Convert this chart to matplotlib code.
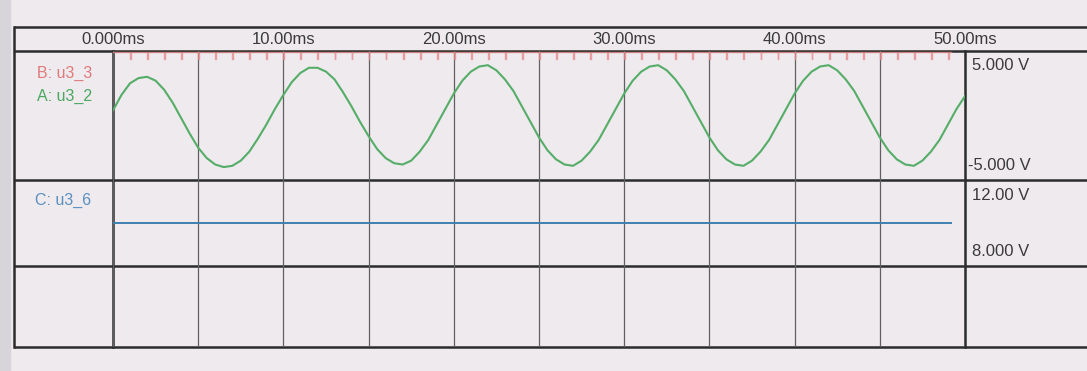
import matplotlib
matplotlib.use("Agg")
import matplotlib.pyplot as plt
import numpy as np

plt.rcParams['font.family'] = ['Liberation Sans', 'DejaVu Sans']

# ---------------- data ----------------
time_ticks = [0, 10, 20, 30, 40, 50]
time_labels = ['0.000ms', '10.00ms', '20.00ms', '30.00ms', '40.00ms', '50.00ms']
grid_ms = [0, 5, 10, 15, 20, 25, 30, 35, 40, 45, 50]

# Channel A (u3_2), sampled every 0.5 ms from 0 to 50 ms (volts)
a_dt_ms = 0.5
a_values = [
    0.4, 1.6, 2.5, 2.9, 3.0, 2.7, 2.0, 1.0, -0.2, -1.4,
    -2.5, -3.3, -3.8, -4.0, -3.9, -3.5, -2.8, -1.8, -0.7, 0.5,
    1.6, 2.6, 3.3, 3.7, 3.7, 3.4, 2.8, 1.8, 0.7, -0.5,
    -1.6, -2.6, -3.3, -3.7, -3.8, -3.5, -2.8, -1.9, -0.7, 0.5,
    1.7, 2.7, 3.4, 3.8, 3.9, 3.5, 2.8, 1.9, 0.7, -0.5,
    -1.7, -2.7, -3.4, -3.8, -3.9, -3.5, -2.8, -1.9, -0.7, 0.5,
    1.7, 2.7, 3.4, 3.8, 3.9, 3.5, 2.8, 1.9, 0.7, -0.5,
    -1.7, -2.7, -3.4, -3.8, -3.9, -3.5, -2.8, -1.9, -0.7, 0.5,
    1.7, 2.7, 3.4, 3.8, 3.9, 3.5, 2.8, 1.9, 0.7, -0.5,
    -1.7, -2.7, -3.4, -3.8, -3.9, -3.5, -2.8, -1.9, -0.7, 0.5,
    1.5,
]

# Channel B (u3_3): sits at the top of the scale with short dips
b_high = 4.9
b_low = 4.35
b_pulse_ms = [1, 2, 3, 4, 5, 6, 7, 8, 9, 10, 11, 12, 13, 14, 15, 16, 17,
              18, 19, 20, 21, 22, 23, 24, 25, 26, 27, 28, 29, 30, 31, 32,
              33, 34, 35, 36, 37, 38, 39, 40, 41, 42, 43, 44, 45, 46, 47, 48, 49]
b_pulse_width_ms = 0.05
b_end_ms = 49.2

# Channel C (u3_6)
c_time_ms = [0.0, 49.2]
c_values = [10.0, 10.0]

# ---------------- layout (pixels) ----------------
W, H = 1087, 371
x_outer, x_left, x_right = 14, 113, 965
y_top, y_time, y_p1, y_p2, y_p3 = 27, 51, 180, 266, 347

paper = '#eeeaee'
frame = '#2c2c2c'
gridc = '#606060'
txt = '#3a3a3a'

fig = plt.figure(figsize=(W / 100, H / 100), dpi=100)
fig.patch.set_facecolor(paper)

bg = fig.add_axes([0, 0, 1, 1])
bg.set_xlim(0, W)
bg.set_ylim(H, 0)
bg.axis('off')
bg.add_patch(plt.Rectangle((0, 0), 10, H, color='#d8d5da', zorder=0))

for y in [y_top, y_time, y_p1, y_p2, y_p3]:
    bg.plot([x_outer, W], [y, y], color=frame, lw=1.8, solid_capstyle='butt')
bg.plot([x_outer, x_outer], [y_top, y_p3], color=frame, lw=1.8)
bg.plot([x_left, x_left], [y_time, y_p3], color=frame, lw=1.8)
bg.plot([x_right, x_right], [y_time, y_p3], color=frame, lw=1.8)


def rect(x0, y0, x1, y1):
    return [x0 / W, 1 - y1 / H, (x1 - x0) / W, (y1 - y0) / H]


ax1 = fig.add_axes(rect(x_left, y_time, x_right, y_p1))
ax2 = fig.add_axes(rect(x_left, y_p1, x_right, y_p2))
ax3 = fig.add_axes(rect(x_left, y_p2, x_right, y_p3))

for ax in (ax1, ax2, ax3):
    ax.set_facecolor('none')
    ax.set_xlim(0, 50)
    ax.set_xticks(grid_ms)
    ax.grid(axis='x', color=gridc, lw=0.9)
    ax.set_yticks([])
    ax.tick_params(length=0, labelbottom=False)
    for s in ax.spines.values():
        s.set_visible(False)

ax1.set_ylim(-5, 5)
ax2.set_ylim(8, 12)
ax3.set_ylim(0, 1)

# time labels on top of the first panel
lab = [time_labels[time_ticks.index(t)] if t in time_ticks else '' for t in grid_ms]
ax1.xaxis.tick_top()
ax1.set_xticklabels(lab)
ax1.tick_params(axis='x', top=True, labeltop=True, length=0, pad=3,
                labelsize=12, labelcolor=txt)

# channel A
a_time = np.arange(len(a_values)) * a_dt_ms
ax1.plot(a_time, a_values, color='#55ad68', lw=1.5, zorder=3)

# channel B
bt, bv = [0.0], [b_high]
for t in b_pulse_ms:
    bt += [t, t, t + b_pulse_width_ms, t + b_pulse_width_ms]
    bv += [b_high, b_low, b_low, b_high]
bt.append(b_end_ms)
bv.append(b_high)
ax1.plot(bt, bv, color='#e58a8a', lw=1.0, zorder=4, clip_on=False, alpha=0.8)

# channel C
ax2.plot(c_time_ms, c_values, color='#3f80b0', lw=1.4, zorder=3)

# left channel names
bg.text(37, 73, 'B: u3_3', color='#e07a7a', fontsize=11.5, va='center')
bg.text(37, 96, 'A: u3_2', color='#4aa860', fontsize=11.5, va='center')
bg.text(35, 200, 'C: u3_6', color='#5a90c0', fontsize=11.5, va='center')

# right scale labels
bg.text(972, 66, '5.000 V', color=txt, fontsize=12, va='center')
bg.text(968, 166, '-5.000 V', color=txt, fontsize=12, va='center')
bg.text(972, 195, '12.00 V', color=txt, fontsize=12, va='center')
bg.text(972, 251, '8.000 V', color=txt, fontsize=12, va='center')

fig.savefig('out.png', dpi=100, facecolor=fig.get_facecolor())
